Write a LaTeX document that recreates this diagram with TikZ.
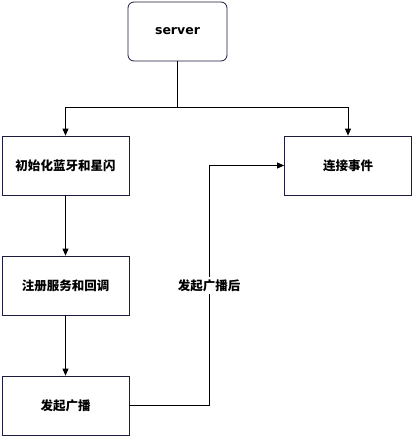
\documentclass[tikz,border=0pt]{standalone}
\usepackage{fontspec}
\setmainfont{DejaVu Sans}
\newfontfamily\cjk{Noto Sans CJK SC}
\usetikzlibrary{arrows.meta}
\definecolor{boxline}{HTML}{1C1C3C}
\begin{document}
\begin{tikzpicture}[x=1pt,y=-1pt,
  box/.style={draw=boxline,line width=0.8pt,minimum width=127pt,minimum height=59pt,inner sep=0pt,font=\cjk\bfseries\fontsize{12.5}{14}\selectfont},
  conn/.style={draw=black,line width=0.8pt,-{Triangle[width=6pt,length=7pt]}},
  plain/.style={draw=black,line width=0.8pt}]
\useasboundingbox (0,0) rectangle (413,436);
\node[box,rounded corners=6pt,minimum width=99pt,font=\bfseries\fontsize{12.5}{14}\selectfont] (srv) at (177.5,31.5) {server};
\node[box] (init) at (65.5,165.5) {初始化蓝牙和星闪};
\node[box] (conn) at (348,165.5) {连接事件};
\node[box] (reg) at (65.5,285.5) {注册服务和回调};
\node[box] (adv) at (65.5,405.5) {发起广播};
\coordinate (j) at (177.5,107);
\draw[plain] (srv.south) -- (j);
\draw[conn] (j) -| (init.north);
\draw[conn] (j) -| (conn.north);
\draw[conn] (init) -- (reg);
\draw[conn] (reg) -- (adv);
\coordinate (c1) at (209,405.5);
\coordinate (c2) at (209,165.5);
\draw[conn] (adv.east) -- (c1) -- node[fill=white,inner sep=2pt,font=\cjk\bfseries\fontsize{12.5}{14}\selectfont] (lbl) {发起广播后} (c2) -- (conn.west);
\end{tikzpicture}
\end{document}
